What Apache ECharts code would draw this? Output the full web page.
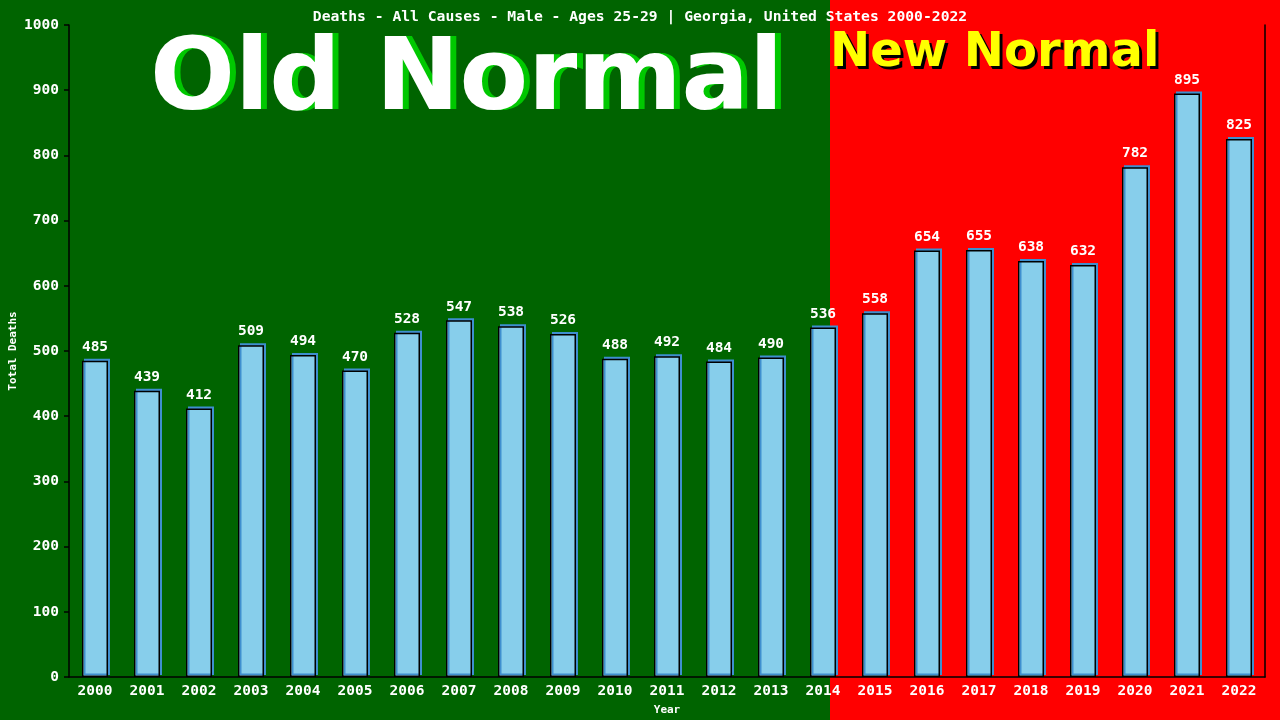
<!DOCTYPE html>
<html>
<head>
<meta charset="utf-8">
<script src="https://cdn.jsdelivr.net/npm/echarts@6/dist/echarts.min.js"></script>
<style>
  html, body { margin: 0; padding: 0; }
  #container {
    width: 1280px; height: 720px;
    background: linear-gradient(to right, #006400 0, #006400 830px, #ff0000 830px, #ff0000 100%);
  }
</style>
</head>
<body>
<div id="container"></div>
<script>
var years = ['2000','2001','2002','2003','2004','2005','2006','2007','2008','2009','2010','2011',
             '2012','2013','2014','2015','2016','2017','2018','2019','2020','2021','2022'];
var deaths = [485,439,412,509,494,470,528,547,538,526,488,492,484,490,536,558,654,655,638,632,782,895,825];
var chartTitle = 'Deaths - All Causes - Male - Ages 25-29 | Georgia, United States 2000-2022';

var mono = '"DejaVu Sans Mono", monospace';
var myChart = echarts.init(document.getElementById('container'));
var option = {
    animation: false,
    title: {
        text: chartTitle,
        left: 'center',
        top: 5,
        textStyle: { color: '#fff', fontFamily: mono, fontSize: 14.7, fontWeight: 'bold' }
    },
    grid: { left: 69, right: 15, top: 25, bottom: 43, outerBoundsMode: 'none', containLabel: false },
    graphic: [
        // old normal: green shadow then white
        { type: 'text', left: 156, top: 33, z: 1,
          style: { text: 'Old Normal', fill: '#00c800', font: 'bold 100px "DejaVu Sans"' } },
        { type: 'text', left: 150, top: 33, z: 2,
          style: { text: 'Old Normal', fill: '#ffffff', font: 'bold 100px "DejaVu Sans"' } },
        // new normal: black shadow then yellow
        { type: 'text', left: 833, top: 33, z: 1,
          style: { text: 'New Normal', fill: '#000000', font: 'bold 48px "DejaVu Sans"' } },
        { type: 'text', left: 830, top: 30, z: 2,
          style: { text: 'New Normal', fill: '#ffff00', font: 'bold 48px "DejaVu Sans"' } }
    ],
    xAxis: {
        type: 'category',
        data: years,
        name: 'Year',
        nameLocation: 'middle',
        nameGap: 28,
        nameMoveOverlap: false,
        nameTextStyle: { color: '#fff', fontFamily: mono, fontSize: 11, fontWeight: 'bold' },
        axisLine: { lineStyle: { color: '#000', width: 1.5 } },
        axisTick: { show: false },
        axisLabel: { color: '#fff', fontFamily: mono, fontSize: 14.5, fontWeight: 'bold', margin: 7, interval: 0 }
    },
    yAxis: [{
        type: 'value',
        min: 0,
        max: 1000,
        interval: 100,
        name: 'Total Deaths',
        nameLocation: 'middle',
        nameGap: 50,
        nameMoveOverlap: false,
        nameTextStyle: { color: '#fff', fontFamily: mono, fontSize: 11, fontWeight: 'bold' },
        axisLine: { show: true, lineStyle: { color: '#000', width: 1.5 } },
        axisTick: { show: true, length: 5, lineStyle: { color: '#000', width: 1.5 } },
        axisLabel: { color: '#fff', fontFamily: mono, fontSize: 14.5, fontWeight: 'bold', margin: 10,
                     formatter: function (v) { return String(v); } },
        splitLine: { show: false }
    }, {
        type: 'value',
        min: 0,
        max: 1000,
        position: 'right',
        axisLine: { show: true, lineStyle: { color: '#000', width: 1.5 } },
        axisTick: { show: false },
        axisLabel: { show: false },
        splitLine: { show: false }
    }],
    series: [{
        type: 'bar',
        data: deaths,
        barWidth: '50%',
        itemStyle: {
            color: '#87ceeb',
            borderColor: '#000',
            borderWidth: 1.5,
            shadowColor: '#3f8fcf',
            shadowOffsetX: 2,
            shadowOffsetY: -2,
            shadowBlur: 0
        },
        label: {
            show: true,
            position: 'top',
            distance: 6,
            color: '#fff',
            fontFamily: mono,
            fontSize: 14.5,
            fontWeight: 'bold'
        }
    }]
};
myChart.setOption(option);
</script>
</body>
</html>
